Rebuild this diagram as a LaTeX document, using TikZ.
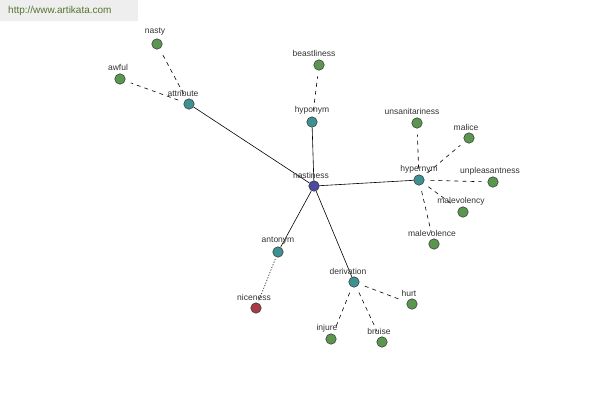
\documentclass[tikz,border=0pt]{standalone}
\usepackage{fontspec}
\setmainfont{Liberation Sans}
\definecolor{leafc}{HTML}{5A9650}
\definecolor{relc}{HTML}{3F9090}
\definecolor{hubc}{HTML}{4A4A9E}
\definecolor{antc}{HTML}{A83A48}
\definecolor{bannerc}{HTML}{EEEEEE}
\definecolor{bantext}{HTML}{55752F}
\definecolor{labc}{HTML}{333333}
\begin{document}
\begin{tikzpicture}[x=1pt,y=-1pt,
  dot/.style={circle,draw=black!80,line width=0.5pt,inner sep=0pt,minimum size=10.5pt},
  leaf/.style={dot,fill=leafc},
  rel/.style={dot,fill=relc},
  hub/.style={dot,fill=hubc},
  ant/.style={dot,fill=antc},
  lab/.style={font=\fontsize{8.5}{9}\selectfont,text=labc,inner sep=0pt},
  solidedge/.style={line width=0.6pt},
  dashedge/.style={line width=0.6pt,dash pattern=on 4pt off 4pt,shorten >=6pt,shorten <=6pt},
  dotedge/.style={line width=0.6pt,dash pattern=on 1.2pt off 1.6pt,shorten >=2pt,shorten <=2pt}]
\useasboundingbox (0,0) rectangle (600,400);
\fill[bannerc] (0,0) rectangle (138,21);
\node[font=\fontsize{10}{11}\selectfont,text=bantext,anchor=west,inner sep=0pt] (banner) at (8,11) {http://www.artikata.com};
% nodes
\node[hub] (nas) at (314,186) {};
\node[rel] (attr) at (189,104) {};
\node[leaf] (nasty) at (157,44) {};
\node[leaf] (awful) at (120,79) {};
\node[rel] (hypo) at (312,122) {};
\node[leaf] (beast) at (319,65) {};
\node[rel] (hyper) at (419,180) {};
\node[leaf] (unsan) at (417,123) {};
\node[leaf] (malice) at (469,138) {};
\node[leaf] (unpl) at (493,182) {};
\node[leaf] (malcy) at (463,212) {};
\node[leaf] (malce) at (434,244) {};
\node[rel] (anto) at (278,252) {};
\node[ant] (nice) at (256,308) {};
\node[rel] (deriv) at (354,282) {};
\node[leaf] (hurt) at (412,304) {};
\node[leaf] (injure) at (331,339) {};
\node[leaf] (bruise) at (382,342) {};
% edges
\draw[solidedge] (nas) -- (attr);
\draw[solidedge] (nas) -- (hypo);
\draw[solidedge] (nas) -- (hyper);
\draw[solidedge] (nas) -- (anto);
\draw[solidedge] (nas) -- (deriv);
\draw[dashedge] (attr) -- (nasty);
\draw[dashedge] (attr) -- (awful);
\draw[dashedge] (hypo) -- (beast);
\draw[dashedge] (hyper) -- (unsan);
\draw[dashedge] (hyper) -- (malice);
\draw[dashedge] (hyper) -- (unpl);
\draw[dashedge] (hyper) -- (malcy);
\draw[dashedge] (hyper) -- (malce);
\draw[dotedge] (anto) -- (nice);
\draw[dashedge] (deriv) -- (hurt);
\draw[dashedge] (deriv) -- (injure);
\draw[dashedge] (deriv) -- (bruise);
% labels
\node[lab] (l-nas) at (311,175) {nastiness};
\node[lab] (l-attr) at (183,93) {attribute};
\node[lab] (l-nasty) at (155,32) {nasty};
\node[lab] (l-awful) at (118,67) {awful};
\node[lab] (l-hypo) at (312,110) {hyponym};
\node[lab] (l-beast) at (314,53) {beastliness};
\node[lab] (l-hyper) at (419,169) {hypernym};
\node[lab] (l-unsan) at (412,111) {unsanitariness};
\node[lab] (l-malice) at (466,127) {malice};
\node[lab] (l-unpl) at (490,171) {unpleasantness};
\node[lab] (l-malcy) at (461,201) {malevolency};
\node[lab] (l-malce) at (432,233) {malevolence};
\node[lab] (l-anto) at (278,241) {antonym};
\node[lab] (l-nice) at (254,297) {niceness};
\node[lab] (l-deriv) at (348,271) {derivation};
\node[lab] (l-hurt) at (409,293) {hurt};
\node[lab] (l-injure) at (327,328) {injure};
\node[lab] (l-bruise) at (379,331) {bruise};
\end{tikzpicture}
\end{document}
